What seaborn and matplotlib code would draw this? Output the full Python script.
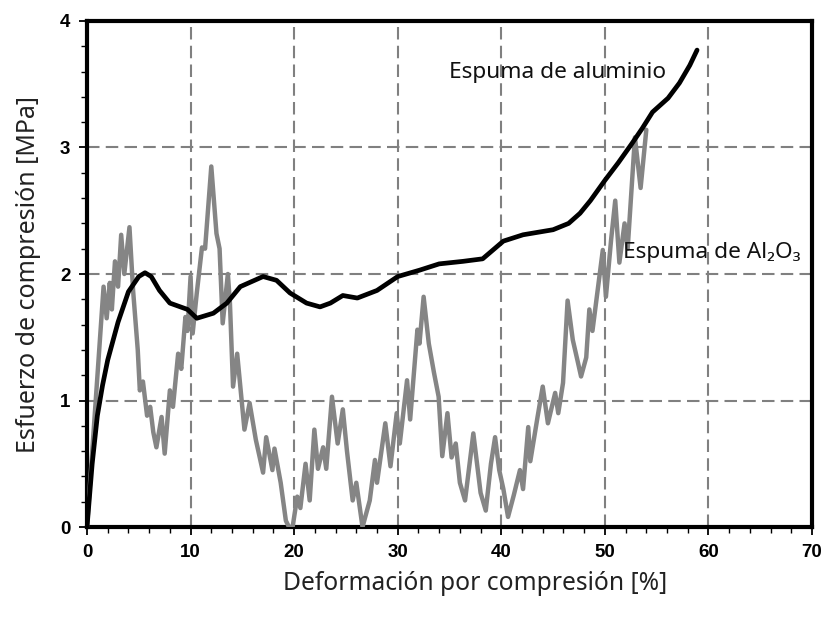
import matplotlib
matplotlib.use("Agg")
import matplotlib.pyplot as plt
from matplotlib.ticker import MultipleLocator
import pandas as pd
import seaborn as sns

# Aluminium foam: compressive stress-strain curve
al_strain = [0, 0.5, 1.0, 1.5, 2.0, 3.0, 4.0, 5.0, 5.6, 6.2,
             7.0, 8.0, 9.7, 10.6, 12.2, 13.5, 14.8, 17.0, 18.3, 19.6,
             21.2, 22.5, 23.5, 24.7, 26.1, 28.0, 30.0, 32.1, 34.0, 36.3,
             38.2, 40.2, 42.1, 45.0, 46.5, 47.6, 48.6, 50.0, 51.3, 52.6,
             53.6, 54.6, 56.1, 57.2, 58.2, 58.9]
al_stress = [0, 0.5, 0.88, 1.12, 1.32, 1.62, 1.86, 1.98, 2.01, 1.98,
             1.87, 1.77, 1.72, 1.65, 1.69, 1.77, 1.9, 1.98, 1.95, 1.85,
             1.77, 1.74, 1.77, 1.83, 1.81, 1.87, 1.98, 2.03, 2.08, 2.1,
             2.12, 2.26, 2.31, 2.35, 2.40, 2.48, 2.58, 2.74, 2.88, 3.03,
             3.15, 3.28, 3.39, 3.51, 3.65, 3.77]

# Al2O3 foam: compressive stress-strain curve
ox_strain = [0, 1.6, 1.9, 2.2, 2.4, 2.7, 3.0, 3.3, 3.6, 4.1,
             4.45, 4.9, 5.1, 5.4, 5.8, 6.1, 6.4, 6.7, 7.2, 7.5,
             8.0, 8.3, 8.8, 9.1, 9.5, 9.7, 10.0, 10.2, 10.6, 11.1,
             11.4, 12.0, 12.5, 12.8, 13.1, 13.6, 13.8, 14.1, 14.5, 15.2,
             15.7, 16.3, 17.0, 17.3, 17.9, 18.1, 18.7, 19.2, 19.5, 19.85,
             20.3, 20.6, 21.1, 21.5, 21.95, 22.3, 22.8, 23.1, 23.65, 24.2,
             24.7, 25.1, 25.65, 26.0, 26.6, 27.3, 27.8, 28.0, 28.8, 29.3,
             29.9, 30.2, 30.9, 31.2, 31.9, 32.1, 32.5, 33.0, 33.5, 33.95,
             34.3, 34.8, 35.2, 35.6, 36.0, 36.5, 37.3, 38.0, 38.5, 39.0,
             39.4, 39.8, 40.2, 40.65, 41.2, 41.8, 42.1, 42.6, 42.8, 43.5,
             44.0, 44.5, 45.2, 45.5, 45.96, 46.4, 46.9, 47.4, 47.7, 48.2,
             48.5, 48.8, 49.3, 49.8, 50.1, 50.6, 51.0, 51.4, 51.9, 52.2,
             52.9, 53.45, 54.0]
ox_stress = [0, 1.9, 1.65, 1.93, 1.72, 2.1, 1.9, 2.31, 2.0, 2.37,
             1.87, 1.4, 1.08, 1.15, 0.88, 0.95, 0.75, 0.63, 0.87, 0.58,
             1.08, 0.95, 1.37, 1.25, 1.66, 1.55, 1.98, 1.53, 1.85, 2.21,
             2.2, 2.85, 2.32, 2.2, 1.61, 2.0, 1.77, 1.11, 1.37, 0.77,
             0.98, 0.69, 0.43, 0.71, 0.45, 0.62, 0.35, 0.05, 0.0, 0.0,
             0.24, 0.15, 0.5, 0.21, 0.77, 0.46, 0.63, 0.46, 1.03, 0.66,
             0.93, 0.6, 0.21, 0.35, 0.0, 0.21, 0.53, 0.35, 0.82, 0.48,
             0.9, 0.66, 1.16, 0.85, 1.56, 1.45, 1.82, 1.45, 1.22, 1.03,
             0.56, 0.9, 0.55, 0.66, 0.35, 0.21, 0.74, 0.27, 0.13, 0.5,
             0.71, 0.45, 0.3, 0.08, 0.25, 0.45, 0.3, 0.79, 0.52, 0.87,
             1.11, 0.82, 1.06, 0.9, 1.14, 1.79, 1.48, 1.3, 1.19, 1.34,
             1.72, 1.55, 1.87, 2.19, 1.82, 2.27, 2.58, 2.09, 2.4, 2.2,
             3.08, 2.68, 3.14]

x_ticks = [0, 10, 20, 30, 40, 50, 60, 70]
y_ticks = [0, 1, 2, 3, 4]

label_al = "Espuma de aluminio"
label_ox = "Espuma de Al\u2082O\u2083"
x_label = "Deformación por compresión [%]"
y_label = "Esfuerzo de compresión [MPa]"

sns.set_theme(style="white")
plt.rcParams["font.family"] = ["Noto Sans", "DejaVu Sans"]

al_df = pd.DataFrame({"strain": al_strain, "stress": al_stress})
ox_df = pd.DataFrame({"strain": ox_strain, "stress": ox_stress})

fig = plt.figure(figsize=(8.27, 6.19), dpi=100)
ax = fig.add_axes([0.1052, 0.1486, 0.8767, 0.8175])

ax.set_axisbelow(True)
ax.grid(True, which="major", color="#808080", linestyle=(0, (6, 3)), linewidth=1.5)

sns.lineplot(data=ox_df, x="strain", y="stress", ax=ax, sort=False,
             estimator=None, color="#858585", linewidth=3.2, zorder=3)
sns.lineplot(data=al_df, x="strain", y="stress", ax=ax, sort=False,
             estimator=None, color="black", linewidth=3.4, zorder=4)

ax.set_xlim(0, 70)
ax.set_ylim(0, 4)
ax.set_xticks(x_ticks)
ax.set_yticks(y_ticks)
ax.xaxis.set_minor_locator(MultipleLocator(2))
ax.yaxis.set_minor_locator(MultipleLocator(0.2))
ax.tick_params(which="major", direction="out", length=6, width=1.3,
               color="black", bottom=True, left=True, pad=6)
ax.tick_params(which="minor", direction="out", length=4, width=1.0,
               color="black", bottom=True, left=True)
for lbl in ax.get_xticklabels() + ax.get_yticklabels():
    lbl.set_fontfamily(["Liberation Sans", "DejaVu Sans"])
    lbl.set_fontweight("bold")
    lbl.set_fontsize(13.5)
    lbl.set_color("black")

for sp in ax.spines.values():
    sp.set_visible(True)
    sp.set_color("black")
    sp.set_linewidth(3)

ax.set_xlabel(x_label, fontsize=17.7, color="#222222")
ax.set_ylabel(y_label, fontsize=18, color="#222222")
ax.xaxis.set_label_coords(0.535, -0.086)
ax.yaxis.set_label_coords(-0.064, 0.5)

ax.text(34.95, 3.55, label_al, fontsize=16.3, color="#111111", va="baseline", ha="left")
ax.text(51.75, 2.13, label_ox, fontsize=16.3, color="#111111", va="baseline", ha="left")

fig.savefig("out.png", dpi=100, facecolor="white")
